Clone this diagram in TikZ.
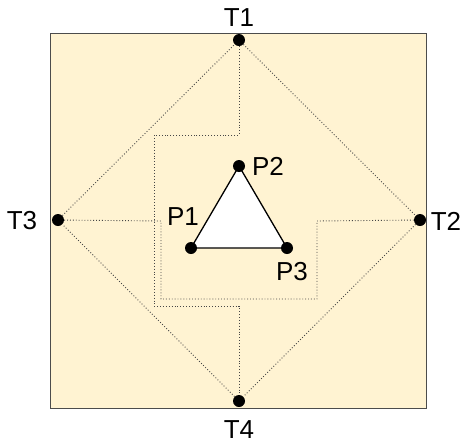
\documentclass[tikz,border=0pt]{standalone}
\usepackage{fontspec}
\setmainfont{Liberation Sans}
\usepackage{tikz}
\usetikzlibrary{positioning,calc}
\definecolor{panelfill}{RGB}{255,243,210}
\definecolor{routegray}{RGB}{70,70,70}

\begin{document}
\begin{tikzpicture}[x=1pt, y=-1pt,
    dot/.style={circle, fill=black, inner sep=0pt, minimum size=12pt},
    lbl/.style={font=\fontsize{26}{30}\selectfont, inner sep=0pt},
    route/.style={dotted, line width=0.9pt, draw=routegray},
]
    \useasboundingbox (0,0) rectangle (469,445);
    % panel
    \draw[fill=panelfill, draw=black!70, line width=1pt] (50,33) rectangle (426,408);
    % triangle P1 P2 P3
    \coordinate (p1) at (191,248);
    \coordinate (p2) at (239,166);
    \coordinate (p3) at (287,248);
    \draw[fill=white, line width=1.3pt] (p1) -- (p2) -- (p3) -- cycle;
    \node[dot] (p1dot) at (p1) {};
    \node[dot] (p2dot) at (p2) {};
    \node[dot] (p3dot) at (p3) {};
    \node[lbl] (p1lbl) at (183,217) {P1};
    \node[lbl] (p2lbl) at (268,166) {P2};
    \node[lbl] (p3lbl) at (292,272) {P3};
    % terminals on the border
    \node[dot] (t1) at (239,40) {};
    \node[dot] (t2) at (420,220) {};
    \node[dot] (t3) at (58,220) {};
    \node[dot] (t4) at (239,401) {};
    \node[lbl] (t1lbl) at (239,18) {T1};
    \node[lbl] (t2lbl) at (446,221) {T2};
    \node[lbl] (t3lbl) at (22,221) {T3};
    \node[lbl] (t4lbl) at (239,430) {T4};
    % diamond
    \draw[route] (t1) -- (t2) -- (t4) -- (t3) -- (t1);
    % route T1 -> T4
    \coordinate (a1) at (239,135);
    \coordinate (a2) at (154,135);
    \coordinate (a3) at (154,306);
    \coordinate (a4) at (239,306);
    \draw[route] (t1) -- (a1) -- (a2) -- (a3) -- (a4) -- (t4);
    % route T3 -> T2
    \coordinate (b1) at (161,221);
    \coordinate (b2) at (161,299);
    \coordinate (b3) at (317,299);
    \coordinate (b4) at (317,221);
    \draw[route] (t3) -- (b1) -- (b2) -- (b3) -- (b4) -- (t2);
\end{tikzpicture}
\end{document}
